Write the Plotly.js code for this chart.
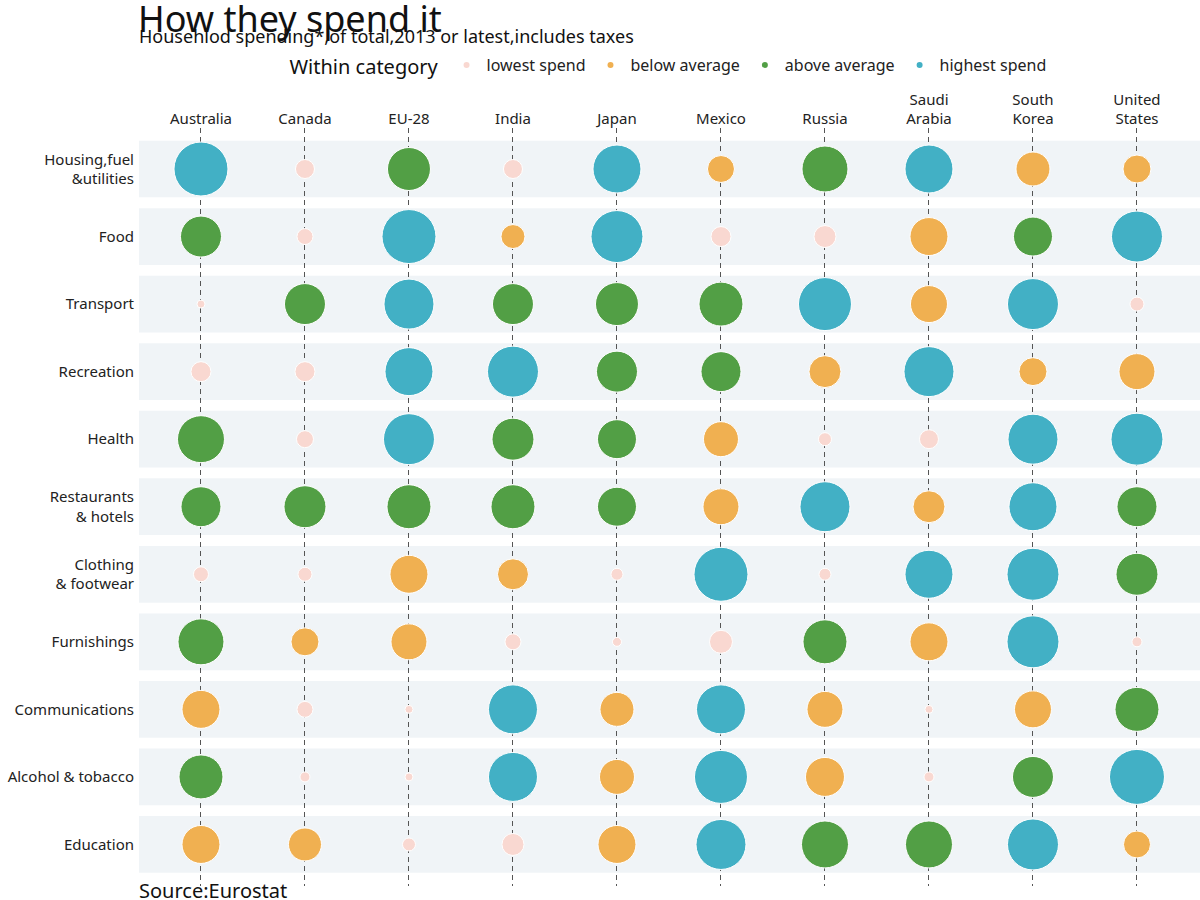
<!DOCTYPE html>
<html>
<head>
<meta charset="utf-8">
<script src="https://cdn.plot.ly/plotly-3.0.1.min.js"></script>
<style>html,body{margin:0;padding:0;background:#fff;}#chart{width:1200px;height:900px;}</style>
</head>
<body>
<div id="chart"></div>
<script>
// Countries (columns) and spending categories (rows)
const countries = ["Australia", "Canada", "EU-28", "India", "Japan", "Mexico", "Russia", "Saudi<br>Arabia", "South<br>Korea", "United<br>States"];
const categories = ["Housing,fuel<br>&utilities", "Food", "Transport", "Recreation", "Health", "Restaurants<br>& hotels", "Clothing<br>& footwear", "Furnishings", "Communications", "Alcohol & tobacco", "Education"];

// Relative spend (bubble size) for each category, by country
const housing        = [54, 19, 43, 19, 48, 27, 46, 48, 34, 28];
const food           = [41, 16, 54, 24, 52, 20, 22, 38, 39, 51];
const transport      = [8, 41, 50, 41, 43, 44, 53, 37, 51, 14];
const recreation     = [20, 20, 48, 51, 41, 40, 32, 50, 28, 36];
const health         = [47, 17, 51, 42, 39, 35, 13, 19, 50, 52];
const restaurants    = [40, 42, 44, 44, 39, 36, 50, 32, 48, 40];
const clothing       = [15, 14, 38, 31, 12, 54, 12, 48, 52, 42];
const furnishings    = [46, 28, 36, 16, 9, 23, 44, 38, 52, 10];
const communications = [38, 16, 8, 49, 34, 49, 36, 8, 37, 44];
const alcohol        = [44, 10, 8, 49, 35, 53, 39, 10, 41, 55];
const education      = [38, 33, 13, 22, 38, 50, 47, 47, 51, 27];

// Level within category: L lowest, B below average, A above average, H highest
const housingLvl        = ["H", "L", "A", "L", "H", "B", "A", "H", "B", "B"];
const foodLvl           = ["A", "L", "H", "B", "H", "L", "L", "B", "A", "H"];
const transportLvl      = ["L", "A", "H", "A", "A", "A", "H", "B", "H", "L"];
const recreationLvl     = ["L", "L", "H", "H", "A", "A", "B", "H", "B", "B"];
const healthLvl         = ["A", "L", "H", "A", "A", "B", "L", "L", "H", "H"];
const restaurantsLvl    = ["A", "A", "A", "A", "A", "B", "H", "B", "H", "A"];
const clothingLvl       = ["L", "L", "B", "B", "L", "H", "L", "H", "H", "A"];
const furnishingsLvl    = ["A", "B", "B", "L", "L", "L", "A", "B", "H", "L"];
const communicationsLvl = ["B", "L", "L", "H", "B", "H", "B", "L", "B", "A"];
const alcoholLvl        = ["A", "L", "L", "H", "B", "H", "B", "L", "A", "H"];
const educationLvl      = ["B", "B", "L", "L", "B", "H", "A", "A", "H", "B"];

const levelCodes = ["L", "B", "A", "H"];
const levelNames = ["lowest spend", "below average", "above average", "highest spend"];
const levelColors = ["#f9d8d1", "#f0b051", "#529f45", "#42b0c5"];

const sizeRows = [housing, food, transport, recreation, health, restaurants, clothing, furnishings, communications, alcohol, education];
const levelRows = [housingLvl, foodLvl, transportLvl, recreationLvl, healthLvl, restaurantsLvl, clothingLvl, furnishingsLvl, communicationsLvl, alcoholLvl, educationLvl];

const traces = [];
// legend entries (small dots)
levelCodes.forEach((code, k) => {
  traces.push({
    type: "scatter", mode: "markers", x: [null], y: [null],
    name: levelNames[k], showlegend: true, hoverinfo: "skip",
    marker: {color: levelColors[k], size: 6, line: {width: 0}},
    legendgroup: code
  });
});
levelCodes.forEach((code, k) => {
  const xs = [], ys = [], ss = [];
  levelRows.forEach((row, r) => {
    row.forEach((lv, c) => {
      if (lv === code) { xs.push(countries[c]); ys.push(categories[r]); ss.push(sizeRows[r][c]); }
    });
  });
  traces.push({
    type: "scatter", mode: "markers", x: xs, y: ys,
    name: levelNames[k], showlegend: false, legendgroup: code,
    marker: {color: levelColors[k], size: ss, sizemode: "diameter", sizeref: 1, opacity: 1,
             line: {color: "#ffffff", width: 1}}
  });
});

// background bands for each row
const shapes = categories.map((c, i) => ({
  type: "rect", xref: "paper", yref: "y", x0: 0, x1: 1, y0: i - 0.42, y1: i + 0.42,
  fillcolor: "#f0f4f7", line: {width: 0}, layer: "below"
}));

const fontFam = "Noto Sans, Open Sans, sans-serif";
const layout = {
  width: 1200, height: 900,
  margin: {l: 139, r: 0, t: 128, b: 14, pad: 0},
  paper_bgcolor: "#ffffff", plot_bgcolor: "#ffffff",
  font: {family: fontFam, color: "#222222", size: 15},
  title: {text: "How they spend it", x: 138 / 1200, xref: "container", xanchor: "left",
          y: 1 - 19 / 900, yref: "container", yanchor: "middle",
          font: {family: fontFam, size: 36, color: "#111111"}},
  xaxis: {type: "category", categoryorder: "array", categoryarray: countries, side: "top",
          range: [-0.596, 9.606], autorange: false, showgrid: true, gridcolor: "#555555", gridwidth: 1,
          griddash: "5px,4px", zeroline: false, showline: false, ticks: "", fixedrange: true,
          tickfont: {size: 15, color: "#222222"}},
  yaxis: {type: "category", categoryorder: "array", categoryarray: categories,
          range: [10.615, -0.607], autorange: false, showgrid: false, zeroline: false, showline: false,
          ticks: "", ticklabelstandoff: 4, fixedrange: true, tickfont: {size: 15, color: "#222222"}},
  shapes: shapes,
  showlegend: true,
  legend: {orientation: "h", x: 0.5, xanchor: "center", y: (886 - 66) / 758, yanchor: "middle",
           title: {text: "Within category", font: {size: 20, color: "#111111"}},
           font: {size: 16, color: "#222222"}, bgcolor: "rgba(0,0,0,0)", itemwidth: 30},
  annotations: [
    {text: "Househlod spending*,of total,2013 or latest,includes taxes", xref: "paper", yref: "paper",
     x: 0, xanchor: "left", xshift: -2, y: (886 - 36) / 758, yanchor: "middle", showarrow: false,
     font: {size: 18, color: "#111111"}},
    {text: "Source:Eurostat", xref: "paper", yref: "paper",
     x: 0, xanchor: "left", xshift: -2, y: (886 - 890) / 758, yanchor: "middle", showarrow: false,
     font: {size: 20, color: "#111111"}}
  ],
  hovermode: false
};

Plotly.newPlot("chart", traces, layout, {displayModeBar: false, staticPlot: true});
</script>
</body>
</html>
